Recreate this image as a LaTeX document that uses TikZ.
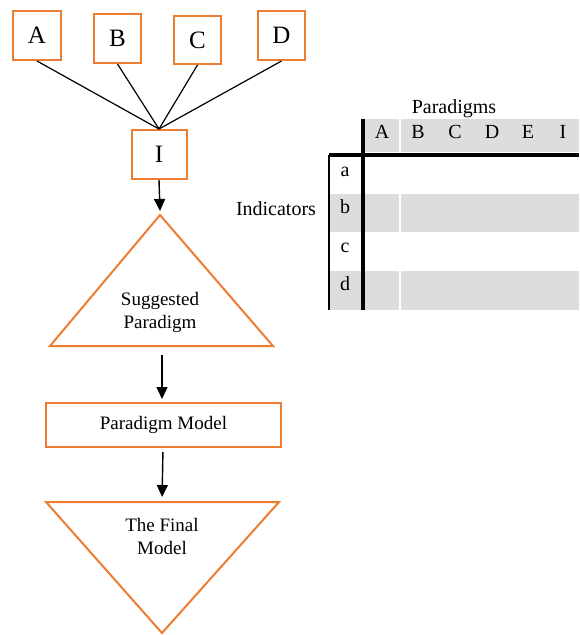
\documentclass[tikz,border=0pt]{standalone}
\usepackage{fontspec}
\setmainfont{Liberation Serif}
\usepackage{tikz}
\usetikzlibrary{arrows.meta}
\usetikzlibrary{positioning}
\definecolor{boxorange}{RGB}{237,125,49}
\definecolor{cellgray}{RGB}{220,221,222}

\begin{document}
\begin{tikzpicture}[x=1pt,y=-1pt,line cap=butt,line join=miter,
  box/.style={draw=boxorange,line width=2pt,inner sep=0pt,font=\fontsize{25}{28}\selectfont},
  flowtext/.style={align=center,inner sep=0pt,font=\fontsize{19}{23}\selectfont},
  tab/.style={anchor=base,inner sep=0pt,font=\fontsize{20}{24}\selectfont},
  tri/.style={draw=boxorange,line width=2pt},
  arr/.style={color=black,line width=1.4pt,-{Triangle[length=12pt,width=11pt]}}]
\useasboundingbox (0,0) rectangle (579,635);
% top boxes
\node[box,minimum width=48pt,minimum height=49pt] (A) at (37,35.5) {A};
\node[box,minimum width=47pt,minimum height=49pt] (B) at (117.5,38.5) {B};
\node[box,minimum width=47pt,minimum height=48pt] (C) at (197.5,40) {C};
\node[box,minimum width=47pt,minimum height=49pt] (D) at (281.5,35.5) {D};
\node[box,minimum width=55pt,minimum height=49pt] (I) at (159,154.5) {I};
\foreach \n in {A,B,C,D}
\draw[color=black,line width=1.2pt] (\n.south) -- (I.north);
% suggested paradigm
\coordinate (sgtop) at (160,215);
\coordinate (sgbase) at (160,346);
\draw[tri] (sgtop) -- (273,346) -- (50,346) -- cycle;
\node[flowtext] (sg) at (160,312) {Suggested\\Paradigm};
\draw[arr] (I.south) -- ([yshift=4pt]sgtop);
% paradigm model
\node[draw=boxorange,line width=2pt,minimum width=235pt,minimum height=44pt,flowtext] (model) at (163.5,425) {Paradigm Model};
\draw[arr,shorten >=3pt] ([xshift=2pt,yshift=-9pt]sgbase) -- ([xshift=-1.5pt]model.north);
% final model
\coordinate (fntop) at (162,502);
\draw[tri] (46,502) -- (279,502) -- (162,633) -- cycle;
\node[flowtext] (fn) at (162,536) {The Final\\Model};
\draw[arr,shorten <=4pt,shorten >=5pt] ([xshift=-0.5pt]model.south) -- (fntop);
% table
\fill[cellgray] (363,119) rectangle (399,152);
\fill[cellgray] (401,119) rectangle (579,152);
\foreach \ya/\yb in {194/232,271/310}{
\fill[cellgray] (329,\ya) rectangle (361,\yb);
\fill[cellgray] (365,\ya) rectangle (399,\yb);
\fill[cellgray] (401,\ya) rectangle (579,\yb);
}
\coordinate (tl) at (329,155);
\coordinate (tr) at (579,155);
\coordinate (bl) at (329,310);
\coordinate (vt) at (363,119);
\coordinate (vb) at (363,310);
\draw[color=black,line width=3.5pt] (tl) -- (tr);
\draw[color=black,line width=3.5pt] (vt) -- (vb);
\draw[color=black,line width=2pt] (tl) -- (bl);
\node[tab] (par) at (454,113) {Paradigms};
\node[tab] (ind) at (276,215) {Indicators};
\foreach \l/\x in {A/382,B/418,C/455,D/492,E/528,I/563}
\node[tab] (h\l) at (\x,138) {\l};
\foreach \l/\y in {a/176,b/213,c/252,d/290}
\node[tab] (r\l) at (345,\y) {\l};
\end{tikzpicture}
\end{document}
